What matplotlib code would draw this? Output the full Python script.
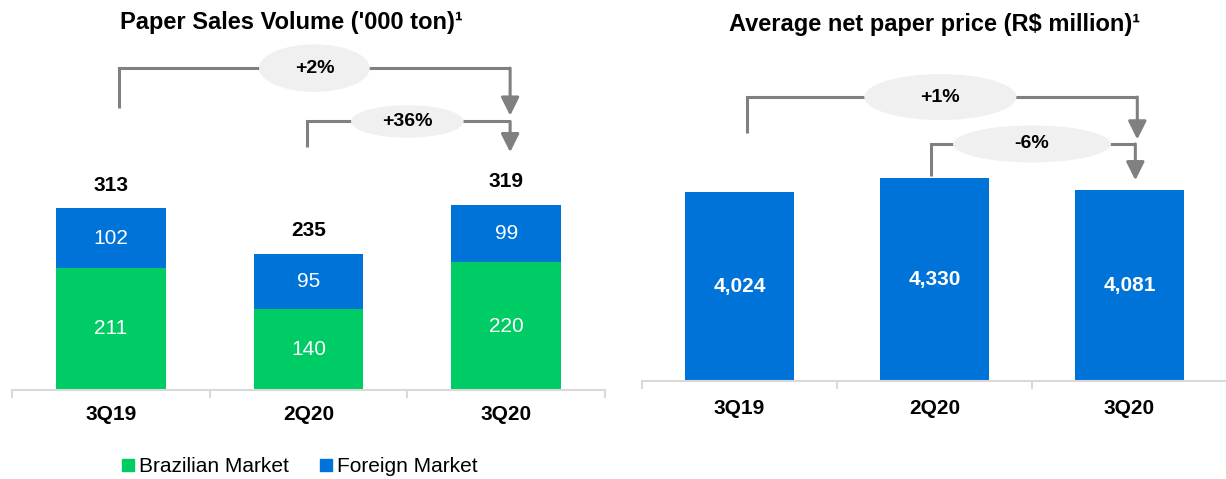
import matplotlib.pyplot as plt
from matplotlib.patches import Ellipse, Patch

plt.rcParams['font.family'] = ['Liberation Sans', 'DejaVu Sans']

# ---------- data ----------
quarters = ["3Q19", "2Q20", "3Q20"]
brazil = [211, 140, 220]
foreign = [102, 95, 99]
totals = [313, 235, 319]
price = [4024, 4330, 4081]

vol_changes = ["+2%", "+36%"]
price_changes = ["+1%", "-6%"]

GREEN = "#00CC66"
BLUE = "#0073D9"
GRAY = "#808080"
BUBBLE = "#F0F0F0"
AXIS = "#D9D9D9"

W, H = 1226, 479
fig = plt.figure(figsize=(W / 100, H / 100), dpi=100, facecolor="white")


def make_axes(x0, x1, base, px_per_unit, pad):
    ax = fig.add_axes([x0 / W, (H - base) / H, (x1 - x0) / W, base / H])
    ax.set_xlim(-0.5, 2.5)
    ax.set_ylim(0, base / px_per_unit)
    for s in ["top", "left", "right"]:
        ax.spines[s].set_visible(False)
    ax.spines["bottom"].set_color(AXIS)
    ax.spines["bottom"].set_linewidth(1.5)
    ax.set_yticks([])
    # boundary ticks without labels, category labels on minor ticks
    ax.set_xticks([-0.5, 0.5, 1.5, 2.5])
    ax.set_xticklabels([])
    ax.tick_params(axis="x", which="major", length=6, width=1.5, color=AXIS)
    ax.set_xticks(range(len(quarters)), minor=True)
    ax.set_xticklabels(quarters, minor=True, fontsize=15, fontweight="bold")
    ax.tick_params(axis="x", which="minor", length=0, pad=pad)
    ax.patch.set_alpha(0)
    return ax


def bracket(ax, x_from, x_to, y_top, y_leg, y_tip, label, bx, bw, bh):
    ax.plot([x_from, x_from, x_to], [y_leg, y_top, y_top], color=GRAY, lw=2.2,
            solid_capstyle="butt", solid_joinstyle="miter", clip_on=False, zorder=3)
    ax.annotate("", xy=(x_to, y_tip), xytext=(x_to, y_top),
                arrowprops=dict(arrowstyle="-|>,head_length=1.1,head_width=0.55",
                                color=GRAY, lw=2.2, shrinkA=0, shrinkB=0),
                annotation_clip=False, zorder=3)
    ax.add_patch(Ellipse((bx, y_top), bw, bh, facecolor=BUBBLE, edgecolor="none",
                         zorder=4, clip_on=False))
    ax.text(bx, y_top, label, ha="center", va="center", fontsize=14,
            fontweight="bold", zorder=5)


# ---------- left: paper sales volume ----------
ax1 = make_axes(12, 605, 390, 0.58, 11)
x = range(len(quarters))
ax1.bar(x, brazil, width=0.555, color=GREEN, zorder=2)
ax1.bar(x, foreign, width=0.555, bottom=brazil, color=BLUE, zorder=2)
for i in x:
    ax1.text(i, brazil[i] / 2, f"{brazil[i]}", ha="center", va="center",
             color="white", fontsize=15)
    ax1.text(i, brazil[i] + foreign[i] / 2, f"{foreign[i]}", ha="center",
             va="center", color="white", fontsize=15)
    ax1.text(i, totals[i] + 40, f"{totals[i]}", ha="center", va="center",
             fontsize=15, fontweight="bold")

bracket(ax1, 0.04, 2.02, 555, 486, 473, vol_changes[0], 1.03, 0.56, 82)
bracket(ax1, 0.99, 2.02, 463, 419, 410, vol_changes[1], 1.5, 0.57, 56)

fig.text(291 / W, 1 - 23 / H, "Paper Sales Volume ('000 ton)¹", ha="center",
         va="center", fontsize=17, fontweight="bold")

fig.legend(handles=[Patch(color=GREEN, label="Brazilian Market"),
                    Patch(color=BLUE, label="Foreign Market")],
           loc="center", bbox_to_anchor=(300 / W, 1 - 467 / H), ncol=2,
           frameon=False, fontsize=15, handlelength=0.55, handleheight=0.55,
           handletextpad=0.25, columnspacing=1.5)

# ---------- right: average net paper price ----------
ax2 = make_axes(642, 1227, 381, 0.0469, 13)
ax2.bar(x, price, width=0.555, color=BLUE, zorder=2)
for i in x:
    ax2.text(i, price[i] / 2, f"{price[i]:,}", ha="center", va="center",
             color="white", fontsize=15, fontweight="bold")

bracket(ax2, 0.04, 2.04, 6055, 5290, 5150, price_changes[0], 1.03, 0.78, 980)
bracket(ax2, 0.98, 2.03, 5055, 4375, 4280, price_changes[1], 1.5, 0.81, 790)

fig.text(935 / W, 1 - 25 / H, "Average net paper price (R$ million)¹",
         ha="center", va="center", fontsize=17, fontweight="bold")

fig.savefig("out.png", dpi=100, facecolor="white")
